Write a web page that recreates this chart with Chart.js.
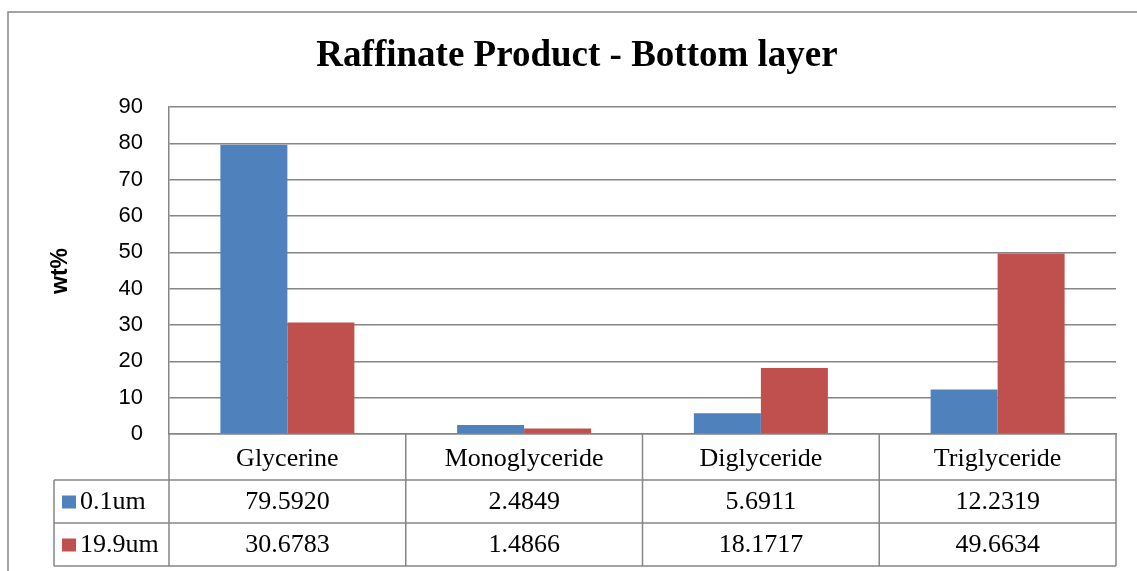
<!DOCTYPE html>
<html>
<head>
<meta charset="utf-8">
<script src="https://cdn.jsdelivr.net/npm/chart.js@4"></script>
<style>
  html, body { margin: 0; padding: 0; background: #fff; }
  #wrap { width: 1137px; height: 571px; position: relative; }
</style>
</head>
<body>
<div id="wrap"><canvas id="chart"></canvas></div>
<script>
const categories = ['Glycerine', 'Monoglyceride', 'Diglyceride', 'Triglyceride'];
const seriesNames = ['0.1um', '19.9um'];
const values01 = [79.5920, 2.4849, 5.6911, 12.2319];
const values199 = [30.6783, 1.4866, 18.1717, 49.6634];
const tableText01 = ['79.5920', '2.4849', '5.6911', '12.2319'];
const tableText199 = ['30.6783', '1.4866', '18.1717', '49.6634'];
const yTicks = [0, 10, 20, 30, 40, 50, 60, 70, 80, 90];

const BLUE = '#4F81BD';
const RED = '#C0504D';
const GRID = '#868686';

// title, axis title, outer frame and the data table under the plot
const extras = {
  id: 'extras',
  afterDraw(chart) {
    const ctx = chart.ctx;
    const area = chart.chartArea;
    const x = chart.scales.x;
    ctx.save();

    // frame
    ctx.strokeStyle = GRID;
    ctx.lineWidth = 1.5;
    ctx.beginPath();
    ctx.moveTo(8, 571);
    ctx.lineTo(8, 12);
    ctx.lineTo(1137, 12);
    ctx.stroke();

    // title
    ctx.fillStyle = '#000';
    ctx.font = 'bold 37px "Liberation Serif"';
    ctx.textAlign = 'center';
    ctx.textBaseline = 'middle';
    ctx.fillText('Raffinate Product - Bottom layer', 577, 56);

    // y axis title
    ctx.save();
    ctx.translate(61, 271);
    ctx.rotate(-Math.PI / 2);
    ctx.font = 'bold 23px "Liberation Sans"';
    ctx.fillText('wt%', 0, 0);
    ctx.restore();

    // data table
    const colW = (area.right - area.left) / categories.length;
    const legendLeft = 54;
    const rowY = [area.bottom, 480, 523, 566];
    ctx.beginPath();
    for (let i = 1; i < rowY.length; i++) {
      ctx.moveTo(legendLeft, rowY[i]);
      ctx.lineTo(area.right, rowY[i]);
    }
    ctx.moveTo(legendLeft, rowY[1]);
    ctx.lineTo(legendLeft, rowY[3]);
    for (let i = 0; i <= categories.length; i++) {
      const cx = area.left + i * colW;
      ctx.moveTo(cx, rowY[0]);
      ctx.lineTo(cx, rowY[3]);
    }
    ctx.stroke();

    ctx.font = '26px "Liberation Serif"';
    ctx.fillStyle = '#000';
    categories.forEach((c, i) => {
      const cx = x.getPixelForValue(i);
      ctx.fillText(c, cx, (rowY[0] + rowY[1]) / 2 + 2);
      ctx.fillText(tableText01[i], cx, (rowY[1] + rowY[2]) / 2 + 1);
      ctx.fillText(tableText199[i], cx, (rowY[2] + rowY[3]) / 2 + 1);
    });

    // legend keys in the table
    ctx.textAlign = 'left';
    [BLUE, RED].forEach((col, i) => {
      const cy = (rowY[i + 1] + rowY[i + 2]) / 2;
      ctx.fillStyle = col;
      ctx.fillRect(62, cy - 6, 14, 13);
      ctx.fillStyle = '#000';
      ctx.fillText(seriesNames[i], 80, cy + 1);
    });

    ctx.restore();
  }
};

new Chart(document.getElementById('chart'), {
  type: 'bar',
  data: {
    labels: categories,
    datasets: [
      { label: seriesNames[0], data: values01, backgroundColor: BLUE },
      { label: seriesNames[1], data: values199, backgroundColor: RED }
    ]
  },
  options: {
    responsive: true,
    maintainAspectRatio: false,
    animation: false,
    events: [],
    layout: { padding: { left: 0, top: 107, right: 21, bottom: 0 } },
    datasets: { bar: { categoryPercentage: 0.566, barPercentage: 1 } },
    plugins: {
      legend: { display: false },
      title: { display: false },
      tooltip: { enabled: false }
    },
    scales: {
      x: {
        grid: { display: false },
        border: { color: GRID, width: 1.5 },
        ticks: { display: false },
        afterFit(scale) { scale.height = 137; }
      },
      y: {
        min: 0,
        max: 90,
        afterBuildTicks(scale) { scale.ticks = yTicks.map(v => ({ value: v })); },
        grid: { color: GRID, lineWidth: 1.5, drawTicks: false },
        border: { color: GRID, width: 1.5 },
        ticks: {
          padding: 26,
          color: '#000',
          font: { family: '"Liberation Sans"', size: 22 }
        },
        afterFit(scale) { scale.width = 169; }
      }
    }
  },
  plugins: [extras]
});
</script>
</body>
</html>
